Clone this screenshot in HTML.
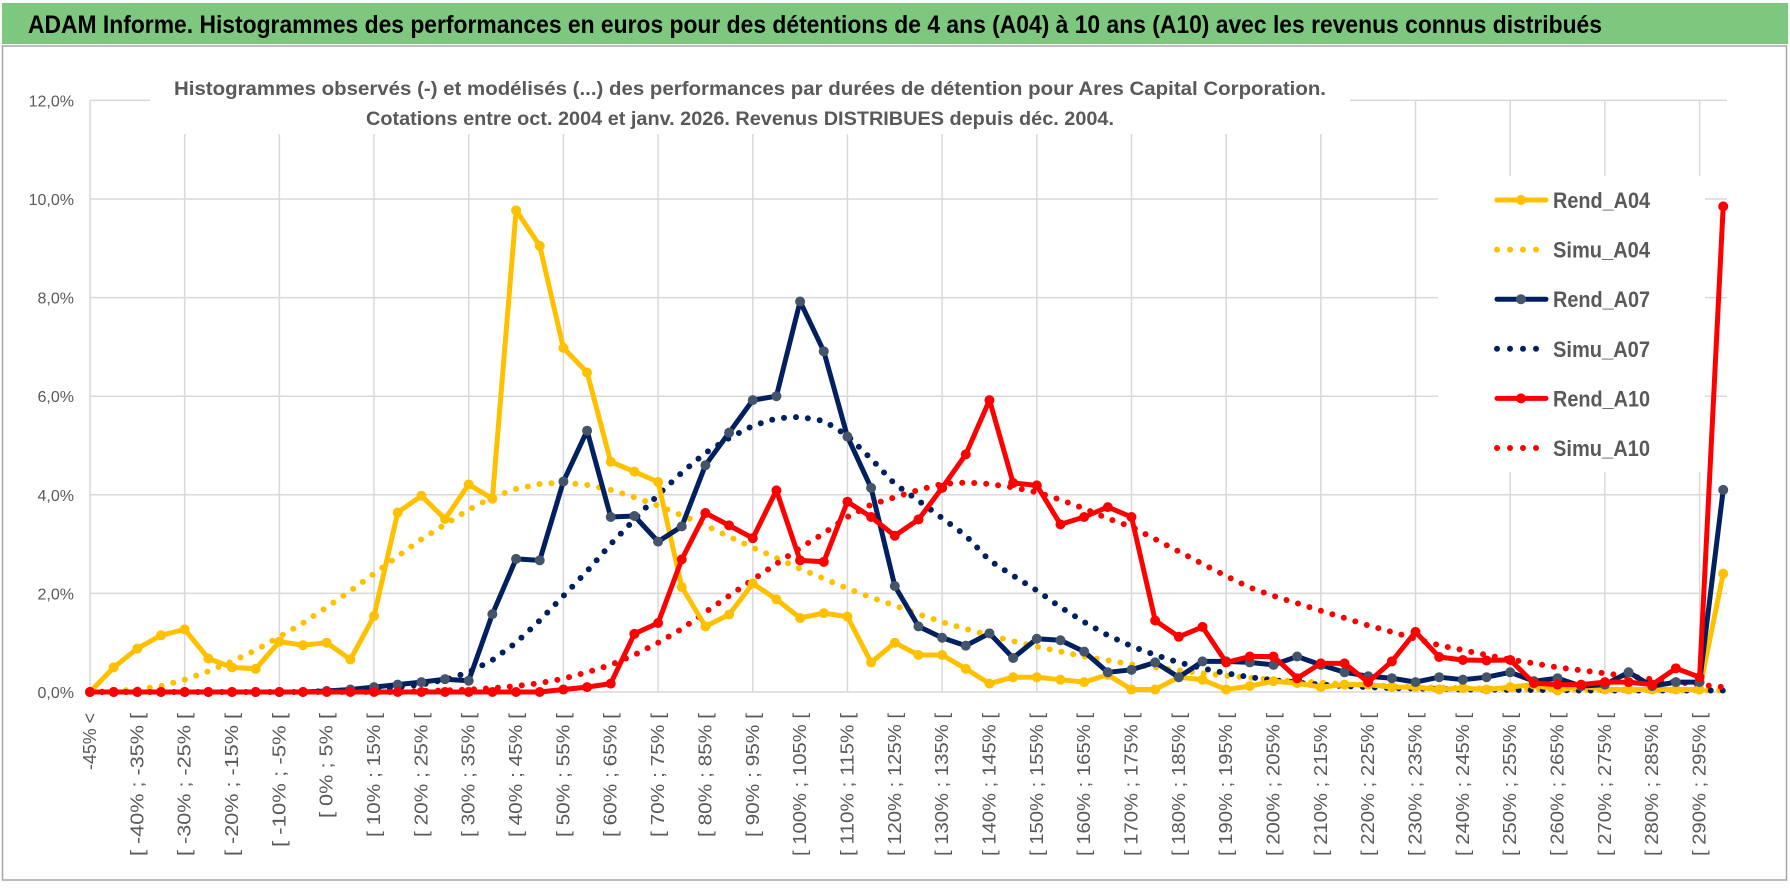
<!DOCTYPE html>
<html><head><meta charset="utf-8">
<style>
html,body{margin:0;padding:0;background:#fff;}
svg{display:block;font-family:"Liberation Sans",sans-serif;}
</style></head>
<body>
<svg id="chart" width="1790" height="888" viewBox="0 0 1790 888" xmlns="http://www.w3.org/2000/svg">
<rect x="0" y="0" width="1790" height="888" fill="#ffffff"/>
<rect x="2" y="3" width="1786" height="41" fill="#7DC87E"/>
<text x="28" y="33" font-size="25" font-weight="bold" fill="#000" textLength="1574" lengthAdjust="spacingAndGlyphs">ADAM Informe. Histogrammes des performances en euros pour des détentions de 4 ans (A04) à 10 ans (A10) avec les revenus connus distribués</text>
<rect x="2.5" y="46" width="1784" height="834" fill="none" stroke="#A6A6A6" stroke-width="1.5"/>
<g id="grid"></g>
<g id="yaxis"></g>
<g id="xaxis"></g>
<rect x="150" y="62" width="1200" height="72" fill="#fff"/>
<text x="174" y="95" font-size="19" font-weight="bold" fill="#595959" textLength="1152" lengthAdjust="spacingAndGlyphs">Histogrammes observés (-) et modélisés (...) des performances par durées de détention pour Ares Capital Corporation.</text>
<text x="366" y="125" font-size="19" font-weight="bold" fill="#595959" textLength="748" lengthAdjust="spacingAndGlyphs">Cotations entre oct. 2004 et janv. 2026.  Revenus DISTRIBUES depuis déc. 2004.</text>
<rect x="1438" y="176" width="267" height="296" fill="#fff"/>
<g id="series"></g>
<g id="legend"></g>
</svg>
<script>
const rendA04 = [0,0.5,0.88,1.15,1.27,0.68,0.5,0.47,1.02,0.95,1.0,0.66,1.54,3.64,3.98,3.51,4.21,3.92,9.77,9.05,6.98,6.48,4.67,4.47,4.26,2.13,1.33,1.57,2.2,1.88,1.5,1.6,1.53,0.6,1.0,0.75,0.75,0.47,0.17,0.3,0.3,0.25,0.2,0.35,0.05,0.05,0.3,0.25,0.05,0.12,0.22,0.18,0.1,0.15,0.15,0.1,0.1,0.05,0.08,0.05,0.1,0.15,0.03,0.12,0.05,0.05,0.05,0.05,0.05,2.4];
const simuA04 = [0,0.02,0.05,0.12,0.25,0.42,0.62,0.85,1.12,1.4,1.72,2.05,2.4,2.75,3.1,3.4,3.7,3.95,4.12,4.22,4.25,4.2,4.1,3.95,3.78,3.58,3.38,3.15,2.93,2.72,2.5,2.3,2.1,1.92,1.75,1.58,1.42,1.28,1.15,1.03,0.92,0.82,0.72,0.64,0.56,0.5,0.44,0.38,0.33,0.29,0.25,0.22,0.19,0.16,0.14,0.12,0.1,0.09,0.08,0.07,0.06,0.05,0.05,0.04,0.04,0.04,0.03,0.03,0.03,0.03];
const rendA07 = [0,0,0,0,0,0,0,0,0,0,0.02,0.05,0.1,0.15,0.2,0.26,0.23,1.58,2.7,2.67,4.27,5.3,3.55,3.57,3.05,3.36,4.6,5.26,5.92,6.0,7.92,6.91,5.18,4.14,2.15,1.33,1.1,0.94,1.19,0.69,1.08,1.05,0.82,0.4,0.45,0.6,0.3,0.62,0.62,0.6,0.55,0.72,0.55,0.4,0.32,0.28,0.2,0.3,0.25,0.3,0.4,0.22,0.28,0.12,0.15,0.4,0.12,0.2,0.2,4.1];
const simuA07 = [0,0,0,0,0,0,0,0,0,0,0.02,0.03,0.05,0.1,0.15,0.25,0.4,0.65,1.0,1.45,1.95,2.45,3.0,3.5,4.0,4.45,4.85,5.15,5.4,5.55,5.58,5.5,5.2,4.73,4.22,3.88,3.53,3.17,2.67,2.36,2.06,1.72,1.42,1.15,0.93,0.75,0.6,0.48,0.38,0.3,0.24,0.19,0.15,0.12,0.1,0.08,0.07,0.06,0.05,0.05,0.04,0.04,0.04,0.03,0.03,0.03,0.03,0.03,0.03,0.03];
const rendA10 = [0,0,0,0,0,0,0,0,0,0,0,0,0,0,0,0,0,0,0,0,0.05,0.1,0.17,1.18,1.4,2.69,3.63,3.38,3.12,4.09,2.67,2.64,3.86,3.55,3.17,3.5,4.14,4.82,5.92,4.24,4.19,3.4,3.55,3.75,3.55,1.45,1.12,1.32,0.6,0.72,0.72,0.28,0.58,0.58,0.2,0.62,1.22,0.71,0.65,0.64,0.65,0.18,0.15,0.15,0.2,0.2,0.15,0.48,0.3,9.85];
const simuA10 = [0,0,0,0,0,0,0,0,0,0,0,0,0,0,0.02,0.03,0.05,0.08,0.12,0.18,0.27,0.4,0.55,0.75,1.0,1.28,1.62,1.95,2.28,2.6,2.92,3.22,3.55,3.8,3.95,4.1,4.22,4.25,4.22,4.15,4.05,3.9,3.72,3.52,3.35,3.1,2.85,2.6,2.35,2.12,1.95,1.8,1.65,1.5,1.35,1.22,1.08,0.95,0.85,0.75,0.66,0.58,0.5,0.44,0.38,0.32,0.26,0.2,0.15,0.1];
const yTicks = [0,2,4,6,8,10,12];
const yTickLabels = ["0,0%","2,0%","4,0%","6,0%","8,0%","10,0%","12,0%"];
const categories = ["-45% <"];
for (let i = 1; i < 70; i++) { categories.push("[ " + (-50 + 5*i) + "% ; " + (-45 + 5*i) + "% ["); }
const legendLabels = ["Rend_A04","Simu_A04","Rend_A07","Simu_A07","Rend_A10","Simu_A10"];

const NS = "http://www.w3.org/2000/svg";
const X0 = 90, DX = 23.67, Y0 = 692, PX_PER = 49.3, XR = 1727;
const xs = i => X0 + i*DX;
const ys = v => Y0 - v*PX_PER;
function mk(tag, attrs, parent){ const e = document.createElementNS(NS, tag); for (const k in attrs) e.setAttribute(k, attrs[k]); parent.appendChild(e); return e; }

const grid = document.getElementById('grid');
yTicks.forEach(t => {
  const l = mk('line', {x1:X0, x2:XR, y1:ys(t), y2:ys(t), stroke:'#D9D9D9', 'stroke-width':1.5}, grid);
  
  
});
for (let i = 0; i < categories.length; i += 4) {
  const l = mk('line', {x1:xs(i), x2:xs(i), y1:ys(12), y2:Y0, stroke:'#D9D9D9', 'stroke-width':1.5}, grid);
  
  
}
const yax = document.getElementById('yaxis');
yTicks.forEach((t, k) => {
  const tx = mk('text', {x:74, y:ys(t)+6, 'text-anchor':'end', 'font-size':16, fill:'#595959'}, yax);
  tx.textContent = yTickLabels[k];
  
  
});
const xax = document.getElementById('xaxis');
categories.forEach((c, i) => {
  if (i % 2) return;
  const x = xs(i) + 6, y = 713;
  const attrs = {x:x, y:y, transform:'rotate(-90 '+x+' '+y+')', 'text-anchor':'end', 'font-size':18.5, fill:'#595959'};
  attrs.textLength = (c.length * 9.55).toFixed(0);
  attrs.lengthAdjust = 'spacingAndGlyphs';
  const tx = mk('text', attrs, xax);
  tx.textContent = c;
  
  
});

const seriesG = document.getElementById('series');
const defs = [
  {data:simuA04, color:'#FFC000', dotted:true, name:'simu-a04-line'},
  {data:simuA07, color:'#002060', dotted:true, name:'simu-a07-line'},
  {data:simuA10, color:'#FF0000', dotted:true, name:'simu-a10-line'},
  {data:rendA04, color:'#FFC000', marker:'#FFC000', name:'rend-a04-line'},
  {data:rendA07, color:'#002060', marker:'#44546A', name:'rend-a07-line'},
  {data:rendA10, color:'#FF0000', marker:'#FF0000', name:'rend-a10-line'}
];
defs.forEach(d => {
  const pts = d.data.map((v, i) => xs(i).toFixed(1) + ',' + ys(v).toFixed(1)).join(' ');
  const attrs = {points:pts, fill:'none', stroke:d.color, 'stroke-linejoin':'round'};
  if (d.dotted) { attrs['stroke-width'] = 6; attrs['stroke-dasharray'] = '0 12'; attrs['stroke-linecap'] = 'round'; }
  else { attrs['stroke-width'] = 5; }
  const pl = mk('polyline', attrs, seriesG);
  
  
  if (d.marker) {
    d.data.forEach((v, i) => {
      const c = mk('circle', {cx:xs(i), cy:ys(v), r:5, fill:d.marker}, seriesG);
      
      
    });
  }
});

const lg = document.getElementById('legend');
const lColors = ['#FFC000','#FFC000','#002060','#002060','#FF0000','#FF0000'];
const lMarkers = ['#FFC000',null,'#44546A',null,'#FF0000',null];
legendLabels.forEach((lab, k) => {
  const y = 200 + k*49.6;
  const attrs = {x1:1497, x2:1546, y1:y, y2:y, stroke:lColors[k], 'stroke-linecap':'round'};
  if (k % 2) { attrs['stroke-width'] = 6; attrs['stroke-dasharray'] = '0 13'; attrs.x1 = 1497; attrs.x2 = 1537; }
  else attrs['stroke-width'] = 5;
  const l = mk('line', attrs, lg);
  
  
  if (lMarkers[k]) {
    const c = mk('circle', {cx:1521, cy:y, r:5, fill:lMarkers[k]}, lg);
    
    
  }
  const t = mk('text', {x:1553, y:y+8, 'font-size':22, 'font-weight':'bold', fill:'#595959', textLength:97, lengthAdjust:'spacingAndGlyphs'}, lg);
  t.textContent = lab;
  
  
});
</script>
</body></html>
